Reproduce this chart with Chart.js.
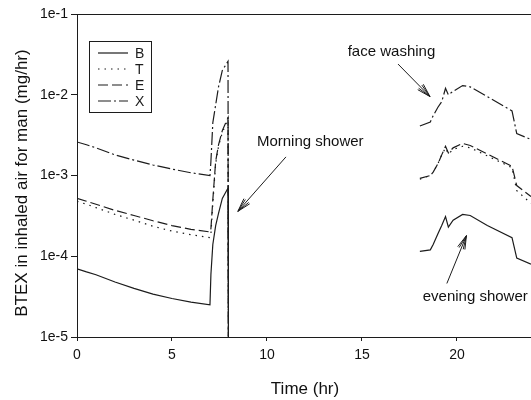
<!DOCTYPE html>
<html>
<head>
<meta charset="utf-8">
<script src="https://cdn.jsdelivr.net/npm/chart.js@4/dist/chart.umd.min.js"></script>
<style>
  html, body { margin: 0; padding: 0; background: #fff; overflow: hidden; }
  #wrap { width: 531px; height: 400px; position: relative; }
</style>
</head>
<body>
<div id="wrap"><canvas id="chart1"></canvas></div>
<script>
const ctx = document.getElementById('chart1').getContext('2d');

// time axis (hr); null at 12 breaks the lines between morning and evening
let hours = [0, 0.5, 1, 2, 3, 4, 5, 6, 7, 7.05, 7.15, 7.3, 7.45, 7.65, 7.95, 7.97, 12,
  18.05, 18.6, 18.75, 19.0, 19.2, 19.4, 19.55, 19.8, 20.3, 20.7, 21.6, 22.9, 23.15, 23.9];

let valoresB = [7.0e-5, 6.4e-5, 5.9e-5, 4.8e-5, 4.0e-5, 3.4e-5, 3.0e-5, 2.7e-5, 2.5e-5, 6e-5, 1.4e-4, 2.4e-4, 3.4e-4, 5.2e-4, 7.0e-4, 1e-5, null,
  1.15e-4, 1.2e-4, 1.4e-4, 1.9e-4, 2.4e-4, 3.1e-4, 2.3e-4, 2.8e-4, 3.3e-4, 3.2e-4, 2.4e-4, 1.7e-4, 9.5e-5, 8.0e-5];
let valoresT = [4.8e-4, 4.4e-4, 4.0e-4, 3.3e-4, 2.8e-4, 2.35e-4, 2.05e-4, 1.85e-4, 1.7e-4, 1.9e-4, 4.5e-4, 1.4e-3, 2.3e-3, 3.4e-3, 5.0e-3, 1e-5, null,
  9.0e-4, 1.0e-3, 1.1e-3, 1.4e-3, 1.8e-3, 2.2e-3, 1.85e-3, 2.1e-3, 2.3e-3, 2.2e-3, 1.75e-3, 1.25e-3, 6.5e-4, 4.5e-4];
let valoresE = [5.2e-4, 4.8e-4, 4.4e-4, 3.7e-4, 3.2e-4, 2.75e-4, 2.4e-4, 2.15e-4, 2.0e-4, 2.2e-4, 5e-4, 1.5e-3, 2.4e-3, 3.6e-3, 5.2e-3, 1e-5, null,
  9.2e-4, 1.0e-3, 1.1e-3, 1.4e-3, 1.8e-3, 2.3e-3, 1.9e-3, 2.2e-3, 2.5e-3, 2.35e-3, 1.85e-3, 1.3e-3, 7.5e-4, 5.5e-4];
let valoresX = [2.6e-3, 2.4e-3, 2.2e-3, 1.8e-3, 1.55e-3, 1.35e-3, 1.2e-3, 1.08e-3, 1.0e-3, 1.5e-3, 4.5e-3, 7.5e-3, 1.25e-2, 2.0e-2, 2.6e-2, 1e-5, null,
  4.1e-3, 4.6e-3, 5.5e-3, 7.0e-3, 8.2e-3, 1.2e-2, 1.0e-2, 1.1e-2, 1.3e-2, 1.25e-2, 9.5e-3, 6.3e-3, 3.3e-3, 2.8e-3];

let xTicks = [0, 5, 10, 15, 20];
let yTicks = [1e-5, 1e-4, 1e-3, 1e-2, 1e-1];
let yTickLabels = ['1e-5', '1e-4', '1e-3', '1e-2', '1e-1'];

const tinta = '#1c1c1c';
const fonte = '"Liberation Sans", Arial, Helvetica, sans-serif';

function pontos(valores) {
  return hours.map((h, i) => ({ x: h, y: valores[i] }));
}

function serie(label, valores, dash) {
  return {
    label: label,
    data: pontos(valores),
    borderColor: tinta,
    borderWidth: 1.2,
    borderDash: dash,
    pointRadius: 0,
    fill: false,
    spanGaps: false,
    tension: 0
  };
}

// legend box inside the plot, top left
const legendaBox = {
  id: 'legendaBox',
  afterDatasetsDraw(chart) {
    const c = chart.ctx;
    c.save();
    c.strokeStyle = tinta;
    c.lineWidth = 1;
    c.setLineDash([]);
    c.strokeRect(89.5, 41.5, 62, 71);
    c.font = '14px ' + fonte;
    c.fillStyle = tinta;
    c.textBaseline = 'middle';
    chart.data.datasets.forEach((ds, i) => {
      const y = 53 + i * 16;
      c.beginPath();
      c.setLineDash(ds.borderDash);
      c.lineWidth = 1.2;
      c.moveTo(98, y);
      c.lineTo(128, y);
      c.stroke();
      c.setLineDash([]);
      c.fillText(ds.label, 135, y + 1);
    });
    c.restore();
  }
};

function seta(c, x1, y1, x2, y2) {
  c.beginPath();
  c.moveTo(x1, y1);
  c.lineTo(x2, y2);
  c.stroke();
  const ang = Math.atan2(y2 - y1, x2 - x1);
  [0.28, 0.16].forEach(a => {
    c.beginPath();
    c.moveTo(x2 - 14 * Math.cos(ang - a), y2 - 14 * Math.sin(ang - a));
    c.lineTo(x2, y2);
    c.lineTo(x2 - 14 * Math.cos(ang + a), y2 - 14 * Math.sin(ang + a));
    c.stroke();
  });
}

// annotations, axis titles and top frame line
const extras = {
  id: 'extras',
  afterDraw(chart) {
    const c = chart.ctx;
    const xs = chart.scales.x;
    const ys = chart.scales.y;
    const a = chart.chartArea;
    c.save();
    c.strokeStyle = tinta;
    c.lineWidth = 1;
    c.setLineDash([]);
    c.beginPath();
    c.moveTo(a.left, a.top + 0.5);
    c.lineTo(a.right, a.top + 0.5);
    c.stroke();

    c.fillStyle = '#111';
    c.font = '15px ' + fonte;
    c.textBaseline = 'middle';
    c.fillText('Morning shower', xs.getPixelForValue(9.47), ys.getPixelForValue(2.6e-3));
    seta(c, xs.getPixelForValue(11.0), ys.getPixelForValue(1.7e-3), xs.getPixelForValue(8.47), ys.getPixelForValue(3.6e-4));
    c.fillText('face washing', xs.getPixelForValue(14.25), ys.getPixelForValue(3.4e-2));
    seta(c, xs.getPixelForValue(16.9), ys.getPixelForValue(2.4e-2), xs.getPixelForValue(18.58), ys.getPixelForValue(9.5e-3));
    c.fillText('evening shower', xs.getPixelForValue(18.2), ys.getPixelForValue(3.1e-5));
    seta(c, xs.getPixelForValue(19.47), ys.getPixelForValue(4.6e-5), xs.getPixelForValue(20.5), ys.getPixelForValue(1.8e-4));

    c.font = '17px ' + fonte;
    c.textAlign = 'center';
    c.fillText('Time (hr)', 305, 389);
    c.translate(22, 183);
    c.rotate(-Math.PI / 2);
    c.fillText('BTEX in inhaled air for man (mg/hr)', 0, 0);
    c.restore();
  }
};

new Chart(ctx, {
  type: 'line',
  data: {
    datasets: [
      serie('B', valoresB, []),
      serie('T', valoresT, [1.5, 5]),
      serie('E', valoresE, [10, 4]),
      serie('X', valoresX, [13, 3, 2, 3])
    ]
  },
  options: {
    responsive: true,
    maintainAspectRatio: false,
    animation: false,
    layout: { padding: { top: 14, left: 0, right: 0, bottom: 0 } },
    plugins: {
      legend: { display: false },
      tooltip: { enabled: false }
    },
    scales: {
      x: {
        type: 'linear',
        min: 0,
        max: 23.9,
        afterFit(scale) { scale.height = 63; },
        afterBuildTicks(scale) { scale.ticks = xTicks.map(v => ({ value: v })); },
        border: { display: true, color: tinta, width: 1 },
        grid: { display: true, drawOnChartArea: false, drawTicks: true, tickLength: 4, color: tinta },
        ticks: { color: '#111', font: { size: 14, family: fonte }, padding: 6, maxRotation: 0 }
      },
      y: {
        type: 'logarithmic',
        min: 1e-5,
        max: 1e-1,
        afterFit(scale) { scale.width = 77; },
        afterBuildTicks(scale) { scale.ticks = yTicks.map(v => ({ value: v })); },
        border: { display: true, color: tinta, width: 1 },
        grid: { display: true, drawOnChartArea: false, drawTicks: true, tickLength: 6, color: tinta },
        ticks: {
          color: '#111',
          font: { size: 14, family: fonte },
          padding: 3,
          callback: (v) => yTickLabels[yTicks.indexOf(v)]
        }
      }
    }
  },
  plugins: [legendaBox, extras]
});
</script>
</body>
</html>
